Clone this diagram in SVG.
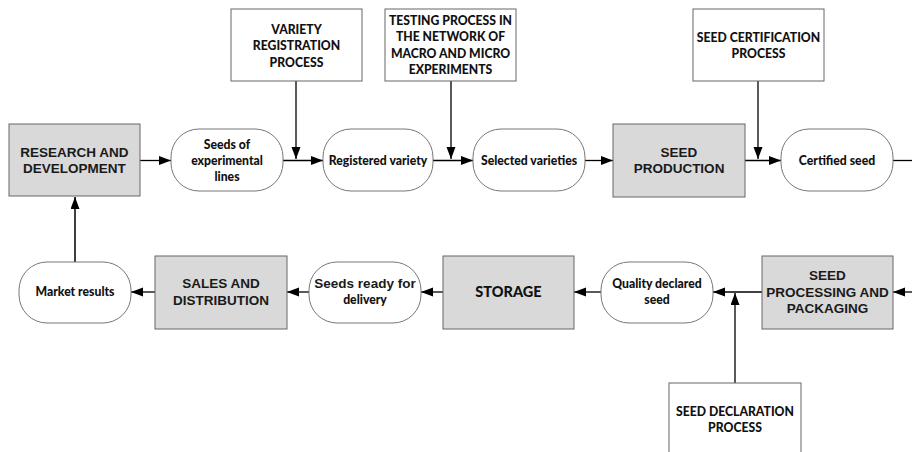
<svg xmlns="http://www.w3.org/2000/svg" width="912" height="452" viewBox="0 0 912 452">
<defs>
<marker id="ah" markerUnits="userSpaceOnUse" markerWidth="13" markerHeight="10" refX="12" refY="4.5" orient="auto">
<path d="M0,0 L12,4.5 L0,9 z" fill="#000"/>
</marker>
<style>
.proc{fill:#d9d9d9;stroke:#666;stroke-width:1}
.box{fill:#fff;stroke:#666;stroke-width:1}
.pill{fill:#fff;stroke:#777;stroke-width:1}
.a{font-family:"Liberation Sans",Arial,sans-serif;font-weight:bold;font-size:13.5px;fill:#1a1a1a;text-anchor:middle}
.c{font-family:Lato,"Open Sans",sans-serif;font-weight:900;font-size:12.2px;fill:#111;text-anchor:middle}
.big{font-size:14.5px}
.ln{fill:none;stroke:#000;stroke-width:1.3}
</style>
</defs>
<rect width="912" height="452" fill="#fff"/>

<g id="connectors">
<line class="ln" x1="140" y1="160.5" x2="171" y2="160.5" marker-end="url(#ah)"/>
<line class="ln" x1="283" y1="160.5" x2="323" y2="160.5" marker-end="url(#ah)"/>
<line class="ln" x1="296" y1="81" x2="296" y2="159" marker-end="url(#ah)"/>
<line class="ln" x1="433" y1="160.5" x2="473" y2="160.5" marker-end="url(#ah)"/>
<line class="ln" x1="451" y1="81" x2="451" y2="159" marker-end="url(#ah)"/>
<line class="ln" x1="585" y1="160.5" x2="613" y2="160.5" marker-end="url(#ah)"/>
<line class="ln" x1="745" y1="160.5" x2="781" y2="160.5" marker-end="url(#ah)"/>
<line class="ln" x1="758" y1="81" x2="758" y2="159" marker-end="url(#ah)"/>
<line class="ln" x1="893" y1="160.5" x2="912" y2="160.5"/>
<line class="ln" x1="912" y1="292" x2="893" y2="292" marker-end="url(#ah)"/>
<line class="ln" x1="762" y1="292" x2="713" y2="292" marker-end="url(#ah)"/>
<line class="ln" x1="735" y1="383" x2="735" y2="293" marker-end="url(#ah)"/>
<line class="ln" x1="601" y1="292" x2="574" y2="292" marker-end="url(#ah)"/>
<line class="ln" x1="443" y1="292" x2="421" y2="292" marker-end="url(#ah)"/>
<line class="ln" x1="309" y1="292" x2="287" y2="292" marker-end="url(#ah)"/>
<line class="ln" x1="155" y1="292" x2="131" y2="292" marker-end="url(#ah)"/>
<line x1="75" y1="262" x2="75" y2="197" stroke="#404040" stroke-width="2" marker-end="url(#ah)"/>
</g>

<g id="rd">
<rect class="proc" x="9" y="124" width="131" height="72"/>
<text class="a" x="74.5" y="157">RESEARCH AND</text>
<text class="a" x="74.5" y="173">DEVELOPMENT</text>
</g>

<g id="seeds-experimental">
<rect class="pill" x="171" y="129" width="112" height="62" rx="28" ry="28"/>
<text class="c" x="227" y="148.5">Seeds of</text>
<text class="c" x="227" y="164.5">experimental</text>
<text class="c" x="227" y="180.5">lines</text>
</g>

<g id="variety-registration">
<rect class="box" x="231" y="9" width="131" height="72"/>
<text class="c" x="296.5" y="33.5">VARIETY</text>
<text class="c" x="296.5" y="50">REGISTRATION</text>
<text class="c" x="296.5" y="66.5">PROCESS</text>
</g>

<g id="registered-variety">
<rect class="pill" x="323" y="129" width="110" height="62" rx="28" ry="28"/>
<text class="c" x="378" y="164.5">Registered variety</text>
</g>

<g id="testing">
<rect class="box" x="385" y="9" width="131" height="72"/>
<text class="c" x="450.5" y="24.5">TESTING PROCESS IN</text>
<text class="c" x="450.5" y="41">THE NETWORK OF</text>
<text class="c" x="450.5" y="57.5">MACRO AND MICRO</text>
<text class="c" x="450.5" y="74">EXPERIMENTS</text>
</g>

<g id="selected-varieties">
<rect class="pill" x="473" y="129" width="112" height="62" rx="28" ry="28"/>
<text class="c" x="529" y="164.5">Selected varieties</text>
</g>

<g id="seed-production">
<rect class="proc" x="613" y="124" width="132" height="73"/>
<text class="a" x="679" y="157">SEED</text>
<text class="a" x="679" y="173">PRODUCTION</text>
</g>

<g id="seed-certification">
<rect class="box" x="693" y="9" width="131" height="72"/>
<text class="c" x="758.5" y="41.5">SEED CERTIFICATION</text>
<text class="c" x="758.5" y="58">PROCESS</text>
</g>

<g id="certified-seed">
<rect class="pill" x="781" y="129" width="112" height="62" rx="28" ry="28"/>
<text class="c" x="837" y="164.5">Certified seed</text>
</g>

<g id="seed-processing">
<rect class="proc" x="762" y="256" width="131" height="73"/>
<text class="a" x="827.5" y="280">SEED</text>
<text class="a" x="827.5" y="297">PROCESSING AND</text>
<text class="a" x="827.5" y="313">PACKAGING</text>
</g>

<g id="seed-declaration">
<rect class="box" x="669" y="383" width="132" height="80"/>
<text class="c" x="735" y="416">SEED DECLARATION</text>
<text class="c" x="735" y="432">PROCESS</text>
</g>

<g id="quality-declared">
<rect class="pill" x="601" y="262" width="112" height="61" rx="28" ry="28"/>
<text class="c" x="657" y="288">Quality declared</text>
<text class="c" x="657" y="304">seed</text>
</g>

<g id="storage">
<rect class="proc" x="443" y="256" width="131" height="73"/>
<text class="c big" x="508.5" y="297">STORAGE</text>
</g>

<g id="seeds-ready">
<rect class="pill" x="309" y="262" width="112" height="61" rx="28" ry="28"/>
<text class="a" x="365" y="288">Seeds ready for</text>
<text class="c" x="365" y="304">delivery</text>
</g>

<g id="sales">
<rect class="proc" x="155" y="256" width="132" height="73"/>
<text class="a" x="221" y="288">SALES AND</text>
<text class="a" x="221" y="305">DISTRIBUTION</text>
</g>

<g id="market-results">
<rect class="pill" x="19" y="262" width="112" height="61" rx="28" ry="28"/>
<text class="c" x="75" y="296">Market results</text>
</g>
</svg>
